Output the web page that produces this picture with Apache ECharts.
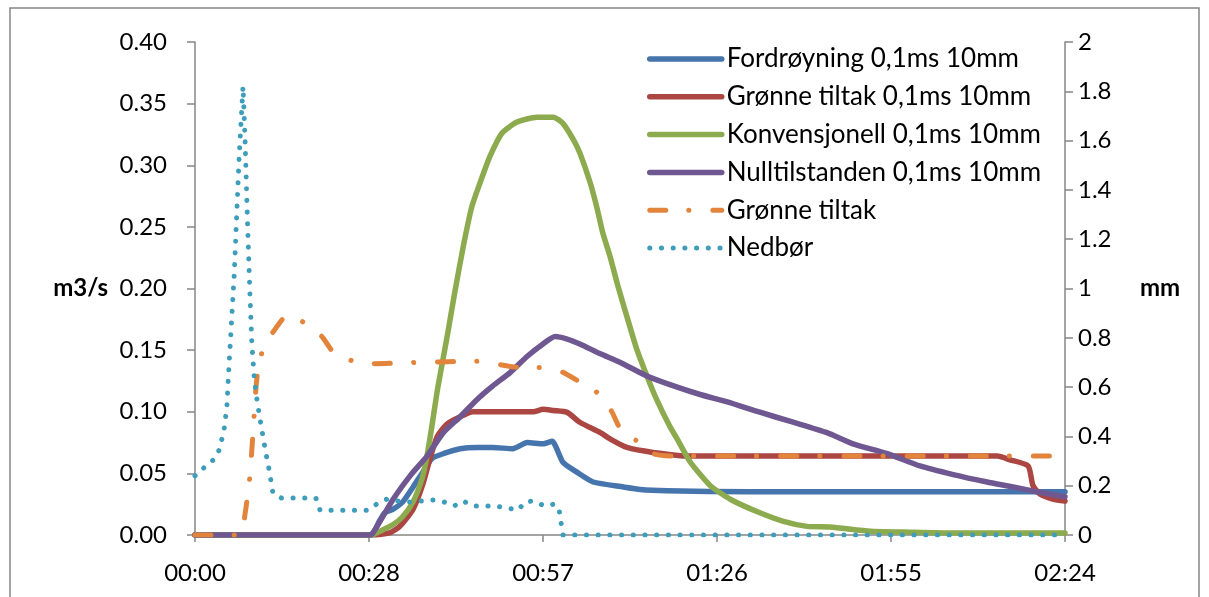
<!DOCTYPE html>
<html>
<head>
<meta charset="utf-8">
<script src="https://cdn.jsdelivr.net/npm/echarts@6/dist/echarts.min.js"></script>
<style>
html,body{margin:0;padding:0;background:#fff;}
#chart{width:1209px;height:597px;}
</style>
</head>
<body>
<div id="chart"></div>
<script>
// ---- data (time in minutes after 00:00) ----
const xTickLabels = ['00:00','00:28','00:57','01:26','01:55','02:24'];

const fordT = [0, 29.0, 30.6, 31.4, 32.8, 34.4, 36.1, 37.7, 39.2, 41.1, 43.9, 46.7, 49.3, 52.6, 55.0, 57.6, 59.1, 60.9, 63.2, 65.9, 70.9, 73.7, 78.1, 91.9, 144];
const fordV = [0, 0, 0.012, 0.018, 0.021, 0.027, 0.039, 0.051, 0.062, 0.066, 0.070, 0.071, 0.071, 0.070, 0.075, 0.074, 0.076, 0.059, 0.051, 0.043, 0.039, 0.037, 0.036, 0.035, 0.035];

const gronn01T = [0, 29.8, 32.3, 33.9, 36.1, 37.7, 38.9, 40.1, 41.7, 43.9, 46.0, 49.3, 56.0, 57.6, 59.3, 61.6, 63.7, 67.1, 68.7, 71.5, 75.8, 82.0, 132.8, 134.9, 137.9, 138.7, 139.9, 142.1, 144];
const gronn01V = [0, 0, 0.002, 0.007, 0.021, 0.041, 0.062, 0.080, 0.090, 0.096, 0.100, 0.100, 0.100, 0.102, 0.101, 0.0995, 0.0915, 0.083, 0.078, 0.071, 0.067, 0.064, 0.064, 0.061, 0.056, 0.040, 0.033, 0.029, 0.0275];

const konvT = [0, 29.3, 30.6, 32.8, 34.4, 36.1, 37.6, 38.4, 39.2, 40.2, 41.7, 43.0, 44.4, 45.8, 47.2, 48.8, 50.8, 53.3, 56.6, 59.3, 60.9, 62.6, 63.7, 65.4, 66.5, 67.5, 68.7, 70.0, 71.5, 73.1, 74.8, 76.4, 78.6, 79.8, 82.0, 85.3, 88.6, 93.0, 97.4, 101.3, 105.1, 111.8, 117.2, 125.5, 144];
const konvV = [0, 0, 0.003, 0.0085, 0.015, 0.027, 0.046, 0.064, 0.088, 0.120, 0.160, 0.197, 0.234, 0.266, 0.286, 0.307, 0.326, 0.335, 0.339, 0.339, 0.334, 0.321, 0.310, 0.286, 0.266, 0.245, 0.226, 0.202, 0.177, 0.151, 0.129, 0.110, 0.088, 0.078, 0.059, 0.040, 0.029, 0.019, 0.011, 0.007, 0.0065, 0.003, 0.0024, 0.0016, 0.0016];

const nullT = [0, 29.0, 29.5, 32.8, 35.6, 38.4, 41.1, 43.9, 46.7, 49.3, 52.2, 55.0, 57.6, 59.6, 61.6, 63.7, 67.1, 70.4, 74.8, 78.6, 83.6, 88.1, 93.5, 99.0, 104.6, 108.9, 114.6, 120.0, 125.5, 131.1, 135.4, 139.4, 144];
const nullV = [0, 0, 0.002, 0.029, 0.048, 0.064, 0.083, 0.096, 0.110, 0.121, 0.132, 0.145, 0.155, 0.161, 0.159, 0.155, 0.147, 0.140, 0.129, 0.122, 0.114, 0.108, 0.0996, 0.0915, 0.083, 0.074, 0.066, 0.056, 0.049, 0.043, 0.039, 0.035, 0.031];

const gronnT = [0, 7.45, 8.28, 9.11, 10.1, 10.4, 11.26, 13.25, 15.23, 18.2, 21.0, 22.8, 26.2, 29.5, 36.6, 47.2, 50.8, 53.5, 57.5, 60.9, 63.4, 66.7, 69.0, 70.2, 73.2, 75.8, 79.1, 144];
const gronnV = [0, 0, 0.017, 0.049, 0.120, 0.133, 0.151, 0.167, 0.178, 0.172, 0.161, 0.149, 0.141, 0.139, 0.140, 0.141, 0.138, 0.136, 0.136, 0.132, 0.125, 0.115, 0.100, 0.088, 0.076, 0.066, 0.064, 0.064];

const nedborT = [0, 1.8, 3.3, 4.1, 4.9, 5.3, 5.5, 6.5, 7.3, 7.95, 8.3, 8.7, 9.1, 9.4, 9.8, 10.3, 10.9, 11.6, 12.3, 12.9, 14.3, 20.0, 20.7, 28.6, 30.1, 31.8, 33.6, 35.6, 37.6, 39.4, 41.2, 42.9, 44.4, 45.9, 47.8, 49.7, 51.7, 53.5, 54.6, 56.1, 57.8, 59.6, 60.3, 60.6, 60.9, 144];
const nedborV = [0.24, 0.28, 0.31, 0.35, 0.44, 0.53, 0.63, 1.06, 1.53, 1.82, 1.59, 1.26, 0.97, 0.78, 0.64, 0.54, 0.45, 0.35, 0.26, 0.17, 0.15, 0.15, 0.10, 0.10, 0.126, 0.146, 0.138, 0.134, 0.138, 0.142, 0.134, 0.118, 0.138, 0.118, 0.118, 0.118, 0.109, 0.101, 0.134, 0.138, 0.118, 0.126, 0.097, 0.049, 0, 0];

const seriesNames = ['Fordrøyning 0,1ms 10mm', 'Grønne tiltak 0,1ms 10mm', 'Konvensjonell 0,1ms 10mm', 'Nulltilstanden 0,1ms 10mm', 'Grønne tiltak', 'Nedbør'];

// ---- build ----
const zip = (t, v) => t.map((x, i) => [x, v[i]]);
const FONT = 'Lato';
const axisGray = '#868686';
const LW = 5.5;

function solid(name, t, v, color) {
  return {
    name, type: 'line', yAxisIndex: 0, data: zip(t, v), symbol: 'none', showSymbol: false,
    smooth: 0.2,
    lineStyle: { color, width: LW, cap: 'round', join: 'round' }, itemStyle: { color }
  };
}

const colors = ['#4674AC', '#AB4642', '#8CAA4E', '#6F5891', '#E2843B', '#3D9DBA'];
const orangeDash = [16, 23, 0.1, 24];
const tealDot = [0.1, 11.6];

const option = {
  animation: false,
  backgroundColor: '#fff',
  grid: { left: 195, right: 144, top: 42, bottom: 62, containLabel: false },
  xAxis: {
    type: 'value', min: 0, max: 144, interval: 28.8,
    axisLine: { show: true, lineStyle: { color: axisGray, width: 1.5 } },
    axisTick: { show: true, inside: false, length: 7, lineStyle: { color: axisGray, width: 1.5 } },
    splitLine: { show: false },
    axisLabel: {
      margin: 26, color: '#000', fontFamily: FONT, fontSize: 24,
      formatter: v => xTickLabels[Math.round(v / 28.8)]
    }
  },
  yAxis: [
    {
      type: 'value', min: 0, max: 0.4, interval: 0.05, position: 'left',
      name: 'm3/s', nameLocation: 'middle', nameRotate: 0, nameGap: 87,
      nameTextStyle: { color: '#000', fontFamily: FONT, fontSize: 24, fontWeight: 'bold' },
      axisLine: { show: true, lineStyle: { color: axisGray, width: 1.5 } },
      axisTick: { show: true, inside: false, length: 8, lineStyle: { color: axisGray, width: 1.5 } },
      splitLine: { show: false },
      axisLabel: { margin: 28, color: '#000', fontFamily: FONT, fontSize: 24, formatter: v => v.toFixed(2) }
    },
    {
      type: 'value', min: 0, max: 2, interval: 0.2, position: 'right',
      name: 'mm', nameLocation: 'middle', nameRotate: 0, nameGap: 75,
      nameTextStyle: { color: '#000', fontFamily: FONT, fontSize: 24, fontWeight: 'bold' },
      axisLine: { show: true, lineStyle: { color: axisGray, width: 1.5 } },
      axisTick: { show: true, inside: false, length: 8, lineStyle: { color: axisGray, width: 1.5 } },
      splitLine: { show: false },
      axisLabel: { margin: 13, color: '#000', fontFamily: FONT, fontSize: 24, formatter: v => String(+v.toFixed(1)) }
    }
  ],
  legend: {
    orient: 'vertical', left: 642, top: 40,
    itemWidth: 72, itemHeight: 14, itemGap: 9.8,
    itemStyle: { opacity: 0 },
    textStyle: { color: '#000', fontFamily: FONT, fontSize: 26, lineHeight: 28 },
    data: [
      { name: seriesNames[0], lineStyle: { width: LW, color: colors[0] } },
      { name: seriesNames[1], lineStyle: { width: LW, color: colors[1] } },
      { name: seriesNames[2], lineStyle: { width: LW, color: colors[2] } },
      { name: seriesNames[3], lineStyle: { width: LW, color: colors[3] } },
      { name: seriesNames[4], lineStyle: { width: 5, color: colors[4], type: orangeDash, cap: 'round' } },
      { name: seriesNames[5], lineStyle: { width: 5, color: colors[5], type: tealDot, cap: 'round' } }
    ]
  },
  series: [
    solid(seriesNames[0], fordT, fordV, colors[0]),
    solid(seriesNames[1], gronn01T, gronn01V, colors[1]),
    solid(seriesNames[2], konvT, konvV, colors[2]),
    solid(seriesNames[3], nullT, nullV, colors[3]),
    {
      name: seriesNames[4], type: 'line', yAxisIndex: 0, data: zip(gronnT, gronnV), symbol: 'none', showSymbol: false,
      smooth: 0.2,
      lineStyle: { color: colors[4], width: 5, cap: 'round', join: 'round', type: orangeDash },
      itemStyle: { color: colors[4] }
    },
    {
      name: seriesNames[5], type: 'line', yAxisIndex: 1, data: zip(nedborT, nedborV), symbol: 'none', showSymbol: false,
      lineStyle: { color: colors[5], width: 5, cap: 'round', join: 'round', type: tealDot },
      itemStyle: { color: colors[5] }
    }
  ],
  graphic: [
    { type: 'rect', silent: true, z: -1, shape: { x: 10, y: 8, width: 1189, height: 640 },
      style: { fill: 'none', stroke: axisGray, lineWidth: 1.5 } }
  ]
};

const chart = echarts.init(document.getElementById('chart'), null, { renderer: 'canvas' });
chart.setOption(option);
</script>
</body>
</html>
